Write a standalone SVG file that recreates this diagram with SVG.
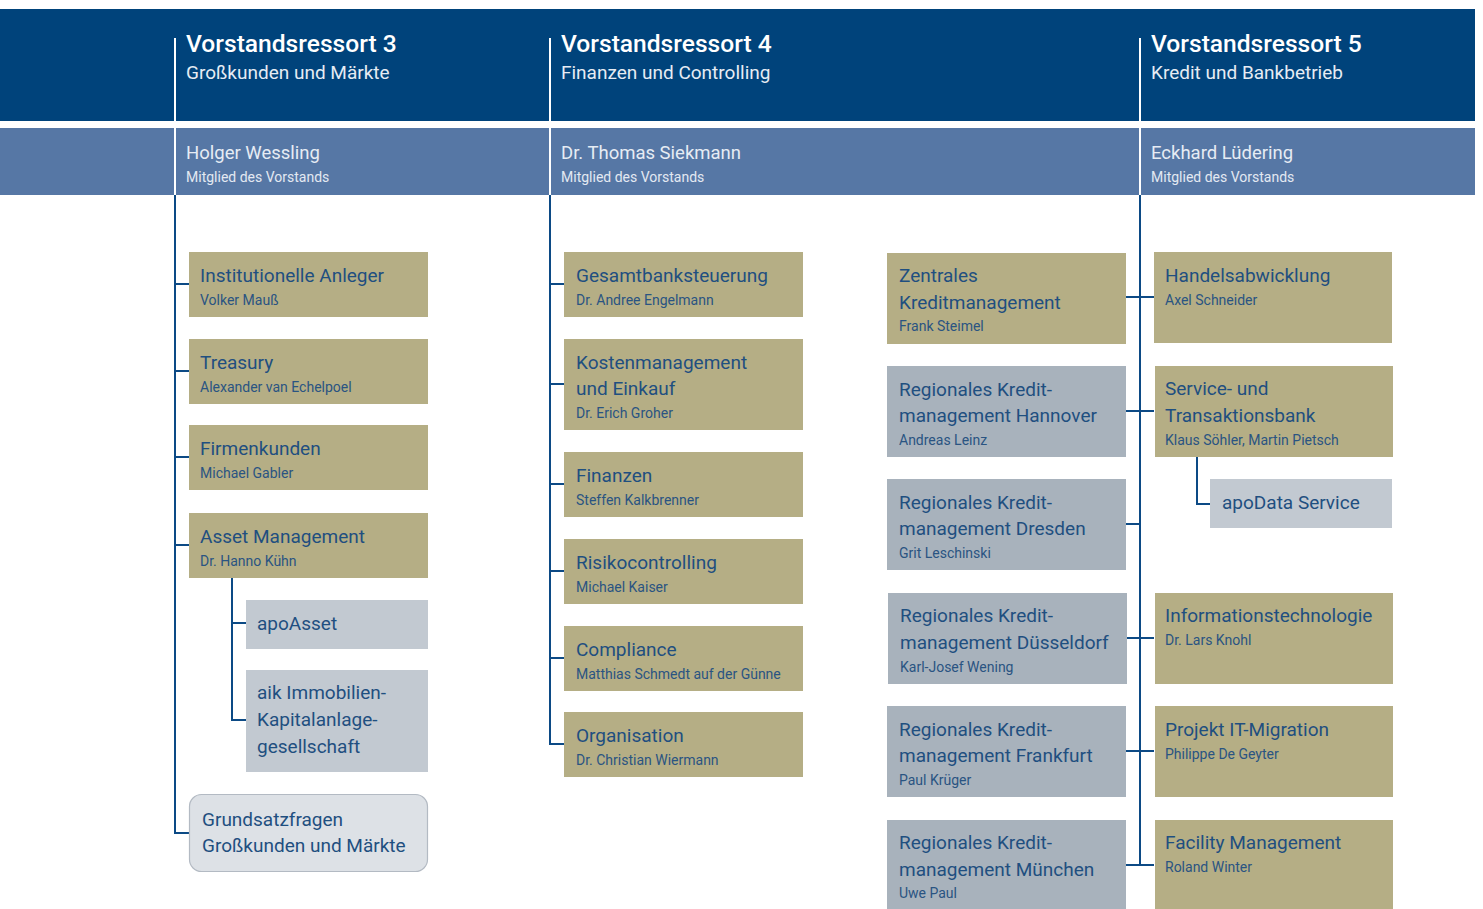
<svg xmlns="http://www.w3.org/2000/svg" width="1483" height="909" viewBox="0 0 1483 909">
  <style>
    .band1 { fill: #00437b; }
    .band2 { fill: #5677a5; }
    .sep { stroke: #ffffff; stroke-width: 2; fill: none; }
    .ht { font-family: Roboto, "Liberation Sans", sans-serif; fill: #ffffff; }
    .h1 { font-size: 24.6px; font-weight: 500; }
    .h2 { font-size: 19px; fill: #e6ecf4; }
    .h2n { font-size: 18.5px; fill: #e6ecf4; }
    .h3 { font-size: 14px; fill: #e3e9f2; }
    .gold { fill: #b5ae85; }
    .grey { fill: #a8b2bc; }
    .pale { fill: #c2c9d1; }
    .round { fill: #dde1e6; stroke: #b3bac3; stroke-width: 1.2; }
    .t { font-family: Roboto, "Liberation Sans", sans-serif; font-size: 19px; fill: #1f4f80; }
    .s { font-family: Roboto, "Liberation Sans", sans-serif; font-size: 14px; fill: #2a5482; }
    .ln { stroke: #0c4a85; stroke-width: 2; fill: none; }
  </style>

  <!-- header bands -->
  <g id="header">
    <rect class="band1" x="0" y="9" width="1475" height="112"/>
    <rect class="band2" x="0" y="128" width="1475" height="67"/>
    <path class="sep" d="M175 38V195 M550 38V195 M1140 38V195"/>
  </g>

  <g id="ressort3-head">
    <text class="ht h1" x="186" y="52">Vorstandsressort 3</text>
    <text class="ht h2" x="186" y="79">Großkunden und Märkte</text>
    <text class="ht h2n" x="186" y="159">Holger Wessling</text>
    <text class="ht h3" x="186" y="182">Mitglied des Vorstands</text>
  </g>
  <g id="ressort4-head">
    <text class="ht h1" x="561" y="52">Vorstandsressort 4</text>
    <text class="ht h2" x="561" y="79">Finanzen und Controlling</text>
    <text class="ht h2n" x="561" y="159">Dr. Thomas Siekmann</text>
    <text class="ht h3" x="561" y="182">Mitglied des Vorstands</text>
  </g>
  <g id="ressort5-head">
    <text class="ht h1" x="1151" y="52">Vorstandsressort 5</text>
    <text class="ht h2" x="1151" y="79">Kredit und Bankbetrieb</text>
    <text class="ht h2n" x="1151" y="159">Eckhard Lüdering</text>
    <text class="ht h3" x="1151" y="182">Mitglied des Vorstands</text>
  </g>

  <!-- connectors -->
  <g id="connectors">
    <path class="ln" d="M175 195V833H189 M175 284H189 M175 371H189 M175 457H189 M175 545H189"/>
    <path class="ln" d="M232 578V720H246 M232 623H246"/>
    <path class="ln" d="M550 195V744H564 M550 284H564 M550 384H564 M550 484H564 M550 571H564 M550 658H564"/>
    <path class="ln" d="M1140 195V865 M1126 297H1154 M1126 411H1154 M1126 524H1140 M1126 638H1154 M1126 751H1154 M1126 865H1154"/>
    <path class="ln" d="M1197 457V504H1210"/>
  </g>

  <!-- Ressort 3 -->
  <g id="institutionelle-anleger">
    <rect class="gold" x="189" y="252" width="239" height="65"/>
    <text class="t" x="200" y="282">Institutionelle Anleger</text>
    <text class="s" x="200" y="305">Volker Mauß</text>
  </g>
  <g id="treasury">
    <rect class="gold" x="189" y="339" width="239" height="65"/>
    <text class="t" x="200" y="369">Treasury</text>
    <text class="s" x="200" y="392">Alexander van Echelpoel</text>
  </g>
  <g id="firmenkunden">
    <rect class="gold" x="189" y="425" width="239" height="65"/>
    <text class="t" x="200" y="455">Firmenkunden</text>
    <text class="s" x="200" y="478">Michael Gabler</text>
  </g>
  <g id="asset-management">
    <rect class="gold" x="189" y="513" width="239" height="65"/>
    <text class="t" x="200" y="543">Asset Management</text>
    <text class="s" x="200" y="566">Dr. Hanno Kühn</text>
  </g>
  <g id="apoasset">
    <rect class="pale" x="246" y="600" width="182" height="49"/>
    <text class="t" x="257" y="630">apoAsset</text>
  </g>
  <g id="aik">
    <rect class="pale" x="246" y="670" width="182" height="102"/>
    <text class="t" x="257" y="699">aik Immobilien-</text>
    <text class="t" x="257" y="726">Kapitalanlage-</text>
    <text class="t" x="257" y="753">gesellschaft</text>
  </g>
  <g id="grundsatzfragen">
    <rect class="round" x="189.5" y="794.5" width="238" height="77" rx="12"/>
    <text class="t" x="202" y="826">Grundsatzfragen</text>
    <text class="t" x="202" y="852">Großkunden und Märkte</text>
  </g>

  <!-- Ressort 4 -->
  <g id="gesamtbanksteuerung">
    <rect class="gold" x="564" y="252" width="239" height="65"/>
    <text class="t" x="576" y="282">Gesamtbanksteuerung</text>
    <text class="s" x="576" y="305">Dr. Andree Engelmann</text>
  </g>
  <g id="kostenmanagement">
    <rect class="gold" x="564" y="339" width="239" height="91"/>
    <text class="t" x="576" y="369">Kostenmanagement</text>
    <text class="t" x="576" y="395">und Einkauf</text>
    <text class="s" x="576" y="418">Dr. Erich Groher</text>
  </g>
  <g id="finanzen">
    <rect class="gold" x="564" y="452" width="239" height="65"/>
    <text class="t" x="576" y="482">Finanzen</text>
    <text class="s" x="576" y="505">Steffen Kalkbrenner</text>
  </g>
  <g id="risikocontrolling">
    <rect class="gold" x="564" y="539" width="239" height="65"/>
    <text class="t" x="576" y="569">Risikocontrolling</text>
    <text class="s" x="576" y="592">Michael Kaiser</text>
  </g>
  <g id="compliance">
    <rect class="gold" x="564" y="626" width="239" height="65"/>
    <text class="t" x="576" y="656">Compliance</text>
    <text class="s" x="576" y="679">Matthias Schmedt auf der Günne</text>
  </g>
  <g id="organisation">
    <rect class="gold" x="564" y="712" width="239" height="65"/>
    <text class="t" x="576" y="742">Organisation</text>
    <text class="s" x="576" y="765">Dr. Christian Wiermann</text>
  </g>

  <!-- Ressort 5, left column -->
  <g id="zentrales-kreditmanagement">
    <rect class="gold" x="887" y="253" width="239" height="91"/>
    <text class="t" x="899" y="282">Zentrales</text>
    <text class="t" x="899" y="309">Kreditmanagement</text>
    <text class="s" x="899" y="331">Frank Steimel</text>
  </g>
  <g id="rkm-hannover">
    <rect class="grey" x="887" y="366" width="239" height="91"/>
    <text class="t" x="899" y="396">Regionales Kredit-</text>
    <text class="t" x="899" y="422">management Hannover</text>
    <text class="s" x="899" y="445">Andreas Leinz</text>
  </g>
  <g id="rkm-dresden">
    <rect class="grey" x="887" y="479" width="239" height="91"/>
    <text class="t" x="899" y="509">Regionales Kredit-</text>
    <text class="t" x="899" y="535">management Dresden</text>
    <text class="s" x="899" y="558">Grit Leschinski</text>
  </g>
  <g id="rkm-duesseldorf">
    <rect class="grey" x="888" y="593" width="239" height="91"/>
    <text class="t" x="900" y="622">Regionales Kredit-</text>
    <text class="t" x="900" y="649">management Düsseldorf</text>
    <text class="s" x="900" y="672">Karl-Josef Wening</text>
  </g>
  <g id="rkm-frankfurt">
    <rect class="grey" x="887" y="706" width="239" height="91"/>
    <text class="t" x="899" y="736">Regionales Kredit-</text>
    <text class="t" x="899" y="762">management Frankfurt</text>
    <text class="s" x="899" y="785">Paul Krüger</text>
  </g>
  <g id="rkm-muenchen">
    <rect class="grey" x="887" y="820" width="239" height="89"/>
    <text class="t" x="899" y="849">Regionales Kredit-</text>
    <text class="t" x="899" y="876">management München</text>
    <text class="s" x="899" y="898">Uwe Paul</text>
  </g>

  <!-- Ressort 5, right column -->
  <g id="handelsabwicklung">
    <rect class="gold" x="1154" y="252" width="238" height="91"/>
    <text class="t" x="1165" y="282">Handelsabwicklung</text>
    <text class="s" x="1165" y="305">Axel Schneider</text>
  </g>
  <g id="service-transaktionsbank">
    <rect class="gold" x="1155" y="366" width="238" height="91"/>
    <text class="t" x="1165" y="395">Service- und</text>
    <text class="t" x="1165" y="422">Transaktionsbank</text>
    <text class="s" x="1165" y="445">Klaus Söhler, Martin Pietsch</text>
  </g>
  <g id="apodata-service">
    <rect class="pale" x="1210" y="479" width="182" height="49"/>
    <text class="t" x="1222" y="509">apoData Service</text>
  </g>
  <g id="informationstechnologie">
    <rect class="gold" x="1155" y="593" width="238" height="91"/>
    <text class="t" x="1165" y="622">Informationstechnologie</text>
    <text class="s" x="1165" y="645">Dr. Lars Knohl</text>
  </g>
  <g id="projekt-it-migration">
    <rect class="gold" x="1155" y="706" width="238" height="91"/>
    <text class="t" x="1165" y="736">Projekt IT-Migration</text>
    <text class="s" x="1165" y="759">Philippe De Geyter</text>
  </g>
  <g id="facility-management">
    <rect class="gold" x="1155" y="820" width="238" height="89"/>
    <text class="t" x="1165" y="849">Facility Management</text>
    <text class="s" x="1165" y="872">Roland Winter</text>
  </g>
</svg>
